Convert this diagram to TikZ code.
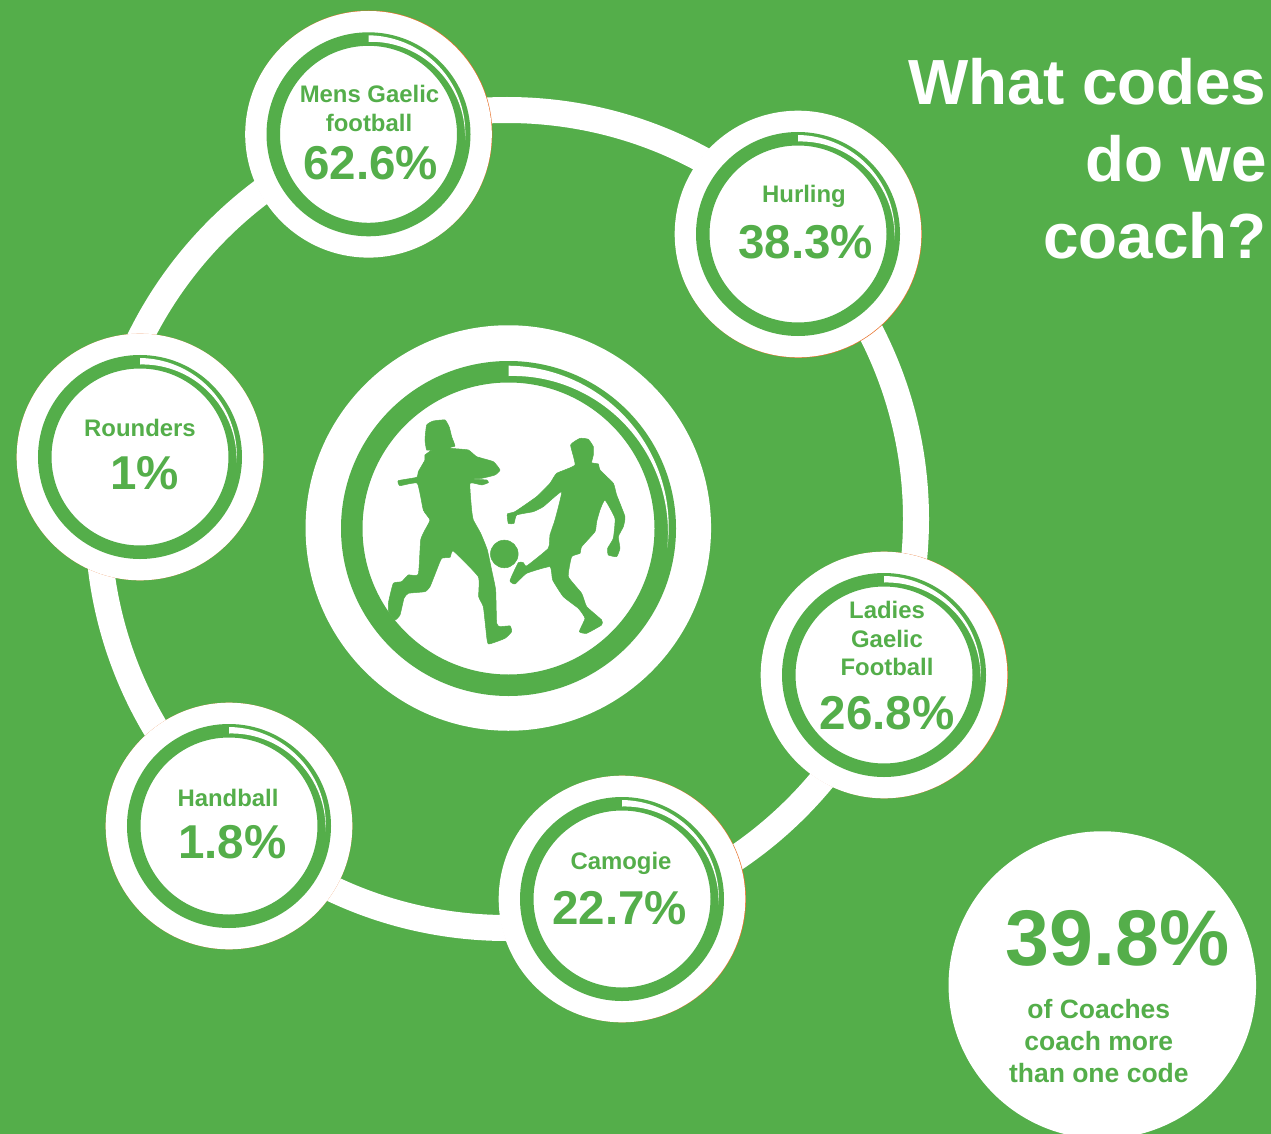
\documentclass[tikz,border=0pt]{standalone}
\usepackage{fontspec}
\setmainfont{Liberation Sans}
\definecolor{gaagreen}{HTML}{54AE4A}
\definecolor{fringe}{HTML}{E8732C}
\tikzset{
  whitedisc/.style={circle,fill=white,inner sep=0pt,minimum size=#1},
  greenring/.style={circle,draw=gaagreen,inner sep=0pt,minimum size=#1},
  fringedisc/.style={circle,fill=fringe,inner sep=0pt,minimum size=#1},
  txt/.style={anchor=base,inner sep=0pt,outer sep=0pt,font=\bfseries,text=gaagreen},
  silhouette/.style={fill=gaagreen,draw=gaagreen,line width=0.5pt,line join=round}
}
\newcommand{\lab}[1]{\fontsize{23.9}{24}\selectfont #1}
\newcommand{\pct}[1]{\fontsize{47.5}{48}\selectfont #1}
\newcommand{\crescent}[6]{% cx cy outerTop innerTop tip tipAngle
  \fill[white] plot[domain=-90:#6,samples=70] ({#1+(#3+(#5-#3)*(\x+90)/(#6+90))*cos(\x)},{#2+(#3+(#5-#3)*(\x+90)/(#6+90))*sin(\x)})
  -- plot[domain=#6:-90,samples=70] ({#1+(#4+(#5-#4)*(\x+90)/(#6+90))*cos(\x)},{#2+(#4+(#5-#4)*(\x+90)/(#6+90))*sin(\x)}) -- cycle;
}
\newcommand{\medal}[5]{% name cx cy fringe-dx fringe-dy
  \node[fringedisc=246.6] (#1f) at (#2+#4,#3+#5) {};
  \node[whitedisc=246.6] (#1) at (#2,#3) {};
  \node[greenring=190.5,line width=13.5pt] (#1r) at (#2,#3) {};
  \crescent{#2}{#3}{99}{92.5}{96.7}{3.4}
}
\begin{document}
\begin{tikzpicture}[x=1pt,y=-1pt]
\useasboundingbox (0,0) rectangle (1271,1134);
\clip (0,0) rectangle (1271,1134);
\fill[gaagreen] (0,0) rectangle (1271,1134);

% track ring
\node[circle,draw=white,line width=26pt,inner sep=0pt,minimum size=818] (track) at (507,519) {};

% centre medal
\node[whitedisc=405.5] (centre) at (508.3,528) {};
\node[greenring=313.5,line width=21.5pt] (centrering) at (508.5,528.5) {};
\crescent{508.5}{528.5}{162.8}{152.5}{160}{7}

% silhouettes
\begin{scope}[shift={(330,340)},x=0.3333pt,y=-0.3333pt]
\fill[silhouette] plot[smooth cycle,tension=.25] coordinates {
(290,255)(310,243)(345,240)(358,262)(365,290)(375,318)(360,322)(362,325)(415,330)(440,350)(490,365)(510,390)(495,405)(455,415)(420,417)(470,420)(475,428)(455,435)(420,430)(425,510)(430,540)(452,580)(472,630)(487,700)(497,750)(500,850)(510,860)(540,858)(545,875)(525,895)(475,912)(468,870)(460,800)(446,770)(445,710)(370,633)(360,652)(335,655)(320,690)(300,740)(285,755)(235,760)(222,775)(210,825)(195,840)(176,815)(176,785)(190,730)(215,725)(235,705)(265,703)(272,600)(285,570)(300,540)(280,510)(262,430)(210,437)(205,422)(260,412)(265,395)(285,360)(285,345)(305,330)(290,330)(285,300)};
\fill[silhouette] plot[smooth cycle,tension=.25] coordinates {
(722,315)(750,295)(775,298)(790,320)(790,345)(785,368)(805,372)(810,390)(850,430)(860,465)(885,530)(880,560)(865,590)(870,625)(860,650)(835,645)(833,625)(850,595)(855,535)(825,480)(810,510)(800,545)(795,575)(755,620)(750,640)(725,650)(715,710)(755,760)(770,800)(815,840)(815,855)(770,880)(748,875)(765,835)(745,805)(700,770)(668,720)(660,680)(590,700)(555,732)(540,722)(565,668)(580,668)(590,678)(655,625)(660,585)(675,540)(695,455)(640,500)(610,515)(560,525)(552,550)(535,550)(532,522)(555,515)(620,470)(660,430)(680,400)(735,375)};
\fill[silhouette] (523,642) circle[radius=41.5];
\end{scope}

% outer medals
\medal{mens}{368.5}{134.3}{.5}{-.5}
\medal{hurling}{798}{234}{.5}{.5}
\medal{rounders}{140}{457}{0}{0}
\medal{ladies}{884}{675}{.7}{0}
\medal{camogie}{622}{899}{.7}{0}
\medal{handball}{229}{826}{0}{0}

% labels
\node[txt] (t1) at (369.5,102.8) {\lab{Mens Gaelic}};
\node[txt] (t2) at (369,131.8) {\lab{football}};
\node[txt] (p1) at (370.8,180) {\pct{62.6\%}};
\node[txt] (t3) at (804,202.8) {\lab{Hurling}};
\node[txt] (p2) at (805.8,258.5) {\pct{38.3\%}};
\node[txt] (t4) at (140,436) {\lab{Rounders}};
\node[txt] (p3) at (144.5,489) {\pct{1\%}};
\node[txt] (t5) at (887,618.8) {\lab{Ladies}};
\node[txt] (t6) at (887,647.8) {\lab{Gaelic}};
\node[txt] (t7) at (887,675.8) {\lab{Football}};
\node[txt] (p4) at (887,729.5) {\pct{26.8\%}};
\node[txt] (t8) at (228,806) {\lab{Handball}};
\node[txt] (p5) at (232.3,858) {\pct{1.8\%}};
\node[txt] (t9) at (621,869.8) {\lab{Camogie}};
\node[txt] (p6) at (619.8,924) {\pct{22.7\%}};

% stat disc
\node[whitedisc=307.5] (stat) at (1102.3,985) {};
\node[txt] (s1) at (1117.8,965) {\fontsize{78.9}{80}\selectfont 39.8\%};
\node[txt] (s2) at (1098.8,1018) {\fontsize{26.5}{27}\selectfont of Coaches};
\node[txt] (s3) at (1098.8,1050) {\fontsize{26.5}{27}\selectfont coach more};
\node[txt] (s4) at (1098.8,1082) {\fontsize{26.5}{27}\selectfont than one code};

% title
\node[txt,text=white,anchor=base east] (h1) at (1266.5,104.5) {\fontsize{63.8}{64}\selectfont What codes};
\node[txt,text=white,anchor=base east] (h2) at (1266.5,181.5) {\fontsize{63.8}{64}\selectfont do we};
\node[txt,text=white,anchor=base east] (h3) at (1266.5,258) {\fontsize{63.8}{64}\selectfont coach?};
\end{tikzpicture}
\end{document}
